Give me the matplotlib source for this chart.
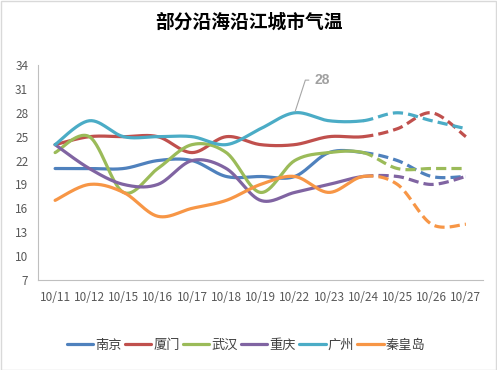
import numpy as np
import matplotlib
matplotlib.use("Agg")
from matplotlib import pyplot as plt
from matplotlib.patches import Rectangle

plt.rcParams['font.family'] = ['Noto Sans CJK SC', 'DejaVu Sans']

dates = ["10/11", "10/12", "10/15", "10/16", "10/17", "10/18", "10/19",
         "10/22", "10/23", "10/24", "10/25", "10/26", "10/27"]
nanjing = [21, 21, 21, 22, 22, 20, 20, 20, 23, 23, 22, 20, 20]
xiamen = [24, 25, 25, 25, 23, 25, 24, 24, 25, 25, 26, 28, 25]
wuhan = [23, 25, 18, 21, 24, 23, 18, 22, 23, 23, 21, 21, 21]
chongqing = [24, 21, 19, 19, 22, 21, 17, 18, 19, 20, 20, 19, 20]
guangzhou = [24, 27, 25, 25, 25, 24, 26, 28, 27, 27, 28, 27, 26]
qinhuangdao = [17, 19, 18, 15, 16, 17, 19, 20, 18, 20, 19, 14, 14]

series = [("南京", nanjing, "#4F81BD"),
          ("厦门", xiamen, "#C0504D"),
          ("武汉", wuhan, "#9BBB59"),
          ("重庆", chongqing, "#8064A2"),
          ("广州", guangzhou, "#4BACC6"),
          ("秦皇岛", qinhuangdao, "#F79646")]
split = 9  # forecast (dashed) starts after 10/24


def smooth(xs, ys, n=30):
    # bezier smoothing similar to office "smoothed line"
    xs = np.asarray(xs, float)
    ys = np.asarray(ys, float)
    px = np.concatenate([[xs[0]], xs, [xs[-1]]])
    py = np.concatenate([[ys[0]], ys, [ys[-1]]])
    outx, outy = [], []
    t = np.linspace(0, 1, n)
    for i in range(1, len(px) - 2):
        p0 = np.array([px[i], py[i]])
        p3 = np.array([px[i + 1], py[i + 1]])
        c1 = p0 + (np.array([px[i + 1], py[i + 1]]) - np.array([px[i - 1], py[i - 1]])) / 6
        c2 = p3 - (np.array([px[i + 2], py[i + 2]]) - np.array([px[i], py[i]])) / 6
        b = (np.outer((1 - t) ** 3, p0) + np.outer(3 * (1 - t) ** 2 * t, c1)
             + np.outer(3 * (1 - t) * t ** 2, c2) + np.outer(t ** 3, p3))
        if i > 1:
            b = b[1:]
        outx.append(b[:, 0])
        outy.append(b[:, 1])
    return np.concatenate(outx), np.concatenate(outy)


fig = plt.figure(figsize=(4.97, 3.70), dpi=100)
ax = fig.add_axes([38 / 497, 90 / 370, 445 / 497, 215 / 370])
fig.patches.append(Rectangle((0.5 / 497, 0.5 / 370), 495.5 / 497, 368.5 / 370,
                             transform=fig.transFigure, fill=False,
                             edgecolor="#D9D9D9", lw=1))

x = np.arange(len(dates))
n = 30
for name, vals, col in series:
    sx, sy = smooth(x, vals, n)
    cut = split * (n - 1) + 1
    ax.plot(sx[:cut], sy[:cut], color=col, lw=2.3, solid_capstyle="round", label=name)
    ax.plot(sx[cut - 1:], sy[cut - 1:], color=col, lw=2.3, dashes=(3.2, 1.6))

ax.annotate("28", xy=(7, guangzhou[7]), xytext=(7.8, 32.1),
            color="#A0A0A0", fontsize=10, fontweight="bold", ha="center", va="center",
            family=["Liberation Sans", "DejaVu Sans"],
            arrowprops=dict(arrowstyle="-", color="#A6A6A6", lw=0.8,
                            connectionstyle="angle,angleA=0,angleB=72,rad=0",
                            relpos=(0, 0.5), shrinkA=2, shrinkB=1))

ax.set_xlim(-0.5, len(dates) - 0.5)
ax.set_ylim(7, 34)
ax.set_yticks(range(7, 35, 3))
ax.set_xticks(x)
ax.set_xticklabels(dates)
for s in ["top", "right"]:
    ax.spines[s].set_visible(False)
for s in ["left", "bottom"]:
    ax.spines[s].set_color("#BFBFBF")
    ax.spines[s].set_linewidth(0.8)
ax.tick_params(axis="both", length=0, labelcolor="#595959", labelsize=8.5)
ax.tick_params(axis="y", pad=7)
ax.tick_params(axis="x", pad=8)

fig.text(0.5, 1 - 22 / 370, "部分沿海沿江城市气温", ha="center", va="center",
         fontsize=13.5, fontweight="bold", color="#000000")

handles, labels = ax.get_legend_handles_labels()
fig.legend(handles, labels, loc="center", bbox_to_anchor=(0.495, 1 - 345 / 370),
           ncol=6, frameon=False, fontsize=9.5, handlelength=2.0,
           handletextpad=0.15, columnspacing=0.25, labelcolor="#404040")

fig.savefig("out.png", dpi=100)
